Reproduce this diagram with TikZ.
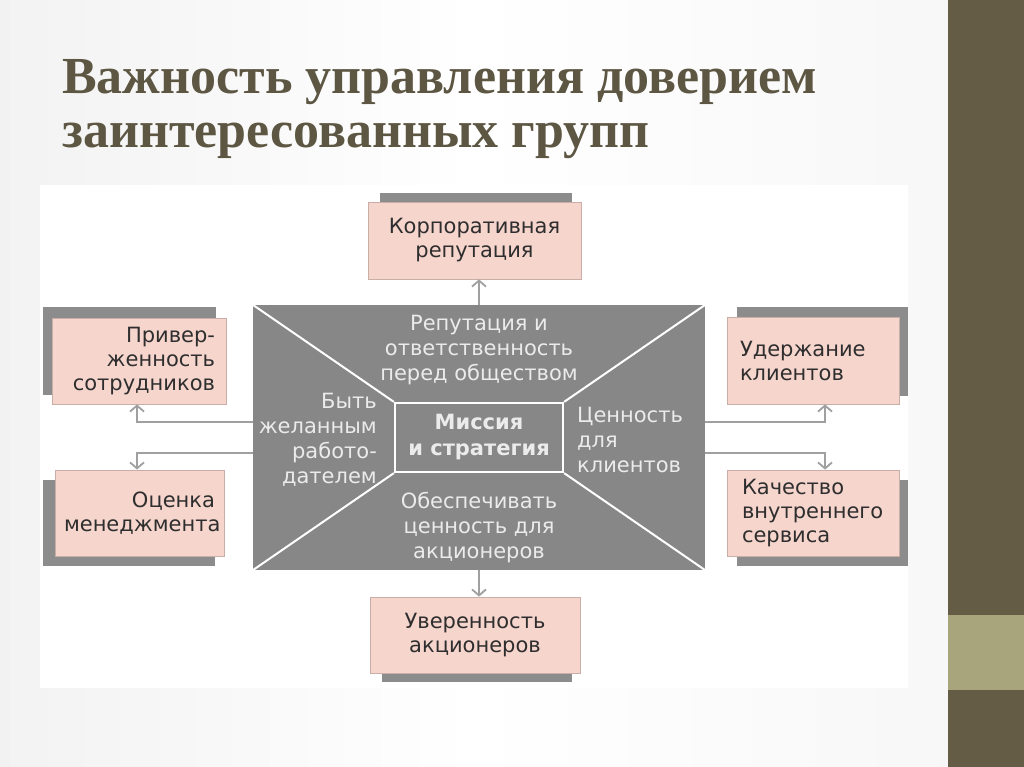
\documentclass[tikz,border=0pt]{standalone}
\usepackage{fontspec}
\usepackage{tikz}
\usetikzlibrary{arrows.meta}
\newfontfamily\boxfont{DejaVu Sans}
\newfontfamily\titlefont{Liberation Serif}
\definecolor{bandDark}{HTML}{655C45}
\definecolor{bandLight}{HTML}{A8A57D}
\definecolor{titleInk}{HTML}{5C5643}
\definecolor{boxPink}{HTML}{F6D5CD}
\definecolor{boxEdge}{HTML}{C9ADA7}
\definecolor{shadowGray}{HTML}{8C8C8C}
\definecolor{coreGray}{HTML}{878787}
\definecolor{linkGray}{HTML}{A0A0A0}

\begin{document}
\begin{tikzpicture}[x=1pt, y=-1pt, >={Straight Barb[length=6pt,width=14pt,line width=1.8pt]},
  box/.style={draw=boxEdge, line width=0.8pt, fill=boxPink, text=black!82, inner sep=0pt, font=\boxfont\fontsize{21}{24}\selectfont},
  shade/.style={fill=shadowGray},
  inlabel/.style={text=white!92!black, inner sep=0pt, font=\boxfont\fontsize{21}{25}\selectfont},
  link/.style={draw=linkGray, line width=2.4pt}]
  \useasboundingbox (0,0) rectangle (1024,767);
  % slide
  \shade[left color=black!5, right color=black!3, middle color=white] (0,0) rectangle (948,767);
  \fill[white] (40,185) rectangle (908,688);
  \fill[bandDark] (948,0) rectangle (1024,767);
  \fill[bandLight] (948,615) rectangle (1024,690);
  \node[anchor=base west, inner sep=0pt, text=titleInk, font=\titlefont\bfseries\fontsize{52}{60}\selectfont] (title1) at (62,94) {Важность управления доверием};
  \node[anchor=base west, inner sep=0pt, text=titleInk, font=\titlefont\bfseries\fontsize{52}{60}\selectfont] (title2) at (62,148) {заинтересованных групп};

  % shadows
  \fill[shade] (380,193) rectangle (572,279);
  \fill[shade] (382,597) rectangle (572,682);
  \fill[shade] (43,307) rectangle (216,395);
  \fill[shade] (43,480) rectangle (215,566);
  \fill[shade] (737,307) rectangle (908,396);
  \fill[shade] (737,480) rectangle (908,566);

  % boxes
  \node[box, minimum width=213pt, minimum height=77pt, align=center] (corp) at (474.5,240.5) {Корпоративная\\репутация};
  \node[box, minimum width=210pt, minimum height=76pt, align=center] (conf) at (475,635) {Уверенность\\акционеров};
  \node[box, minimum width=174pt, minimum height=86pt, text width=152pt, align=right] (loyal) at (139,361) {Привер-\\женность\\сотрудников};
  \node[box, minimum width=169pt, minimum height=86pt, text width=151pt, align=right] (mgmt) at (139.5,513) {Оценка\\менеджмента};
  \node[box, minimum width=172pt, minimum height=87pt, text width=146pt, align=left] (retain) at (813,360.5) {Удержание\\клиентов};
  \node[box, minimum width=172pt, minimum height=86pt, text width=142pt, align=left] (service) at (813,513) {Качество\\внутреннего\\сервиса};

  % core
  \node[fill=coreGray, minimum width=452pt, minimum height=265pt, inner sep=0pt] (core) at (479,437.5) {};
  \node[draw=white, line width=2.2pt, fill=coreGray, minimum width=168pt, minimum height=69pt, inner sep=0pt, align=center, text=white!92!black, font=\boxfont\bfseries\fontsize{21}{26}\selectfont] (mission) at (479,437.5) {Миссия\\и стратегия};
  \draw[white, line width=2pt] (core.north west) -- (mission.north west);
  \draw[white, line width=2pt] (core.north east) -- (mission.north east);
  \draw[white, line width=2pt] (core.south west) -- (mission.south west);
  \draw[white, line width=2pt] (core.south east) -- (mission.south east);
  \node[inlabel, align=center] (society) at (479,350) {Репутация и\\ответственность\\перед обществом};
  \node[inlabel, align=right, anchor=east] (employer) at (377,440) {Быть\\желанным\\работо-\\дателем};
  \node[inlabel, align=left, anchor=west] (clients) at (577,440) {Ценность\\для\\клиентов};
  \node[inlabel, align=center] (owners) at (479,528) {Обеспечивать\\ценность для\\акционеров};

  % links
  \coordinate (lu) at (137,422);
  \coordinate (ld) at (137,453);
  \coordinate (ru) at (825,422);
  \coordinate (rd) at (825,453);
  \draw[link, ->] (core.north) -- (core.north |- corp.south);
  \draw[link, ->] (core.south) -- (core.south |- conf.north);
  \draw[link, ->] (core.west |- lu) -| (lu |- loyal.south);
  \draw[link, ->] (core.west |- ld) -| (ld |- mgmt.north);
  \draw[link, ->] (core.east |- ru) -| (ru |- retain.south);
  \draw[link, ->] (core.east |- rd) -| (rd |- service.north);
\end{tikzpicture}
\end{document}
